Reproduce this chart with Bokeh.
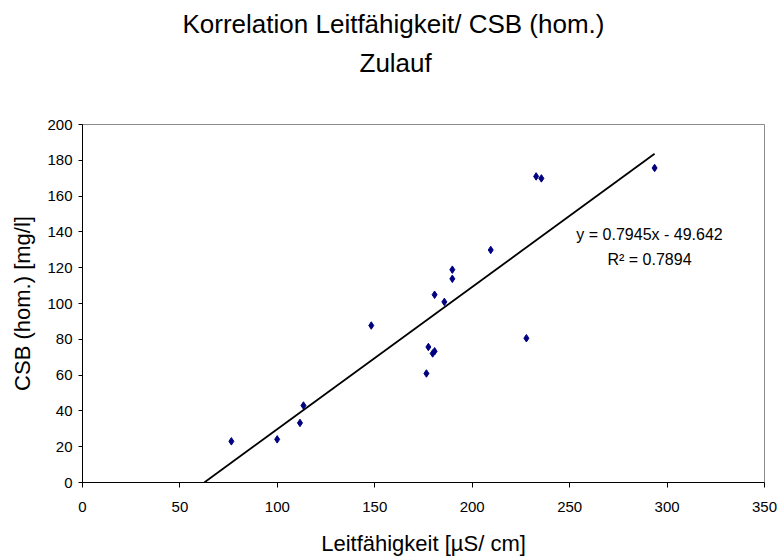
from bokeh.plotting import figure
from bokeh.models import Range1d, FixedTicker, Label, Title, ColumnDataSource
from bokeh.embed import file_html
from bokeh.resources import INLINE

# ---- data ----
title_line1 = "Korrelation Leitfähigkeit/ CSB (hom.)"
title_line2 = "Zulauf"
x_label = "Leitfähigkeit [µS/ cm]"
y_label = "CSB (hom.) [mg/l]"

conductivity = [76.4, 99.9, 111.6, 113.4, 148.2, 176.5, 177.5, 179.7, 180.7,
                180.7, 185.7, 189.8, 189.8, 209.5, 227.8, 232.8, 235.5, 293.6]
csb = [23.0, 24.1, 33.3, 43.0, 87.7, 60.9, 75.7, 72.1, 73.3,
       104.9, 100.9, 113.8, 118.9, 129.9, 80.6, 171.0, 169.9, 175.7]

slope = 0.7945
intercept = -49.642
r_squared = 0.7894

x_ticks = [0, 50, 100, 150, 200, 250, 300, 350]
y_ticks = [0, 20, 40, 60, 80, 100, 120, 140, 160, 180, 200]

FONT = "Liberation Sans"

p = figure(width=780, height=560, output_backend="svg", toolbar_location=None,
           title=None,
           x_range=Range1d(0, 350), y_range=Range1d(0, 200),
           min_border_left=82, min_border_right=16, min_border_top=124,
           min_border_bottom=78, background_fill_color="white",
           border_fill_color="white")

p.outline_line_color = "#8c8c8c"
p.outline_line_width = 1
p.xgrid.visible = False
p.ygrid.visible = False

for ax in (p.xaxis[0], p.yaxis[0]):
    ax.axis_line_color = "black"
    ax.axis_line_width = 1
    ax.major_tick_line_color = "black"
    ax.major_tick_in = 0
    ax.minor_tick_in = 0
    ax.minor_tick_out = 0
    ax.major_label_text_font = FONT
    ax.major_label_text_font_size = "15px"
    ax.major_label_text_color = "black"
    ax.axis_label_text_font = FONT
    ax.axis_label_text_font_size = "22px"
    ax.axis_label_text_font_style = "normal"
    ax.axis_label_text_color = "black"

p.xaxis.ticker = FixedTicker(ticks=x_ticks)
p.yaxis.ticker = FixedTicker(ticks=y_ticks)
p.xaxis.major_tick_out = 5
p.yaxis.major_tick_out = 4
p.xaxis.major_label_standoff = 14
p.yaxis.major_label_standoff = 6
p.xaxis.axis_label = x_label
p.yaxis.axis_label = y_label
p.xaxis.axis_label_standoff = 16
p.yaxis.axis_label_standoff = 9

# titles: stacked panels above the frame (first added = closest to frame)
spacer = Title(text=".", text_font=FONT, text_font_size="2px",
               text_color="white", standoff=44)
p.add_layout(spacer, "above")
t2 = Title(text=title_line2, align="left", offset=277, text_font=FONT,
           text_font_size="26px", text_font_style="normal", text_color="black",
           standoff=0)
p.add_layout(t2, "above")
t1 = Title(text=title_line1, align="left", offset=100, text_font=FONT,
           text_font_size="26px", text_font_style="normal", text_color="black",
           standoff=13)
p.add_layout(t1, "above")

# trend line
x_start = -intercept / slope
x_end = max(conductivity)
trend = ColumnDataSource(dict(x=[x_start, x_end],
                              y=[slope * x_start + intercept, slope * x_end + intercept]))
p.line("x", "y", source=trend, line_color="black", line_width=1.8)

# points
src = ColumnDataSource(dict(x=conductivity, y=csb))
p.scatter("x", "y", source=src, marker="diamond", size=7.5,
          fill_color="#000080", line_color="#000080")

eq_text = f"y = {slope}x - {abs(intercept)}"
r2_text = f"R\u00b2 = {r_squared}"
p.add_layout(Label(x=291, y=138.6, text=eq_text, text_align="center",
                   text_baseline="alphabetic", text_font=FONT,
                   text_font_size="16px", text_color="black"))
p.add_layout(Label(x=291, y=124.5, text=r2_text, text_align="center",
                   text_baseline="alphabetic", text_font=FONT,
                   text_font_size="16px", text_color="black"))

open("out.html", "w").write(file_html(p, INLINE))
